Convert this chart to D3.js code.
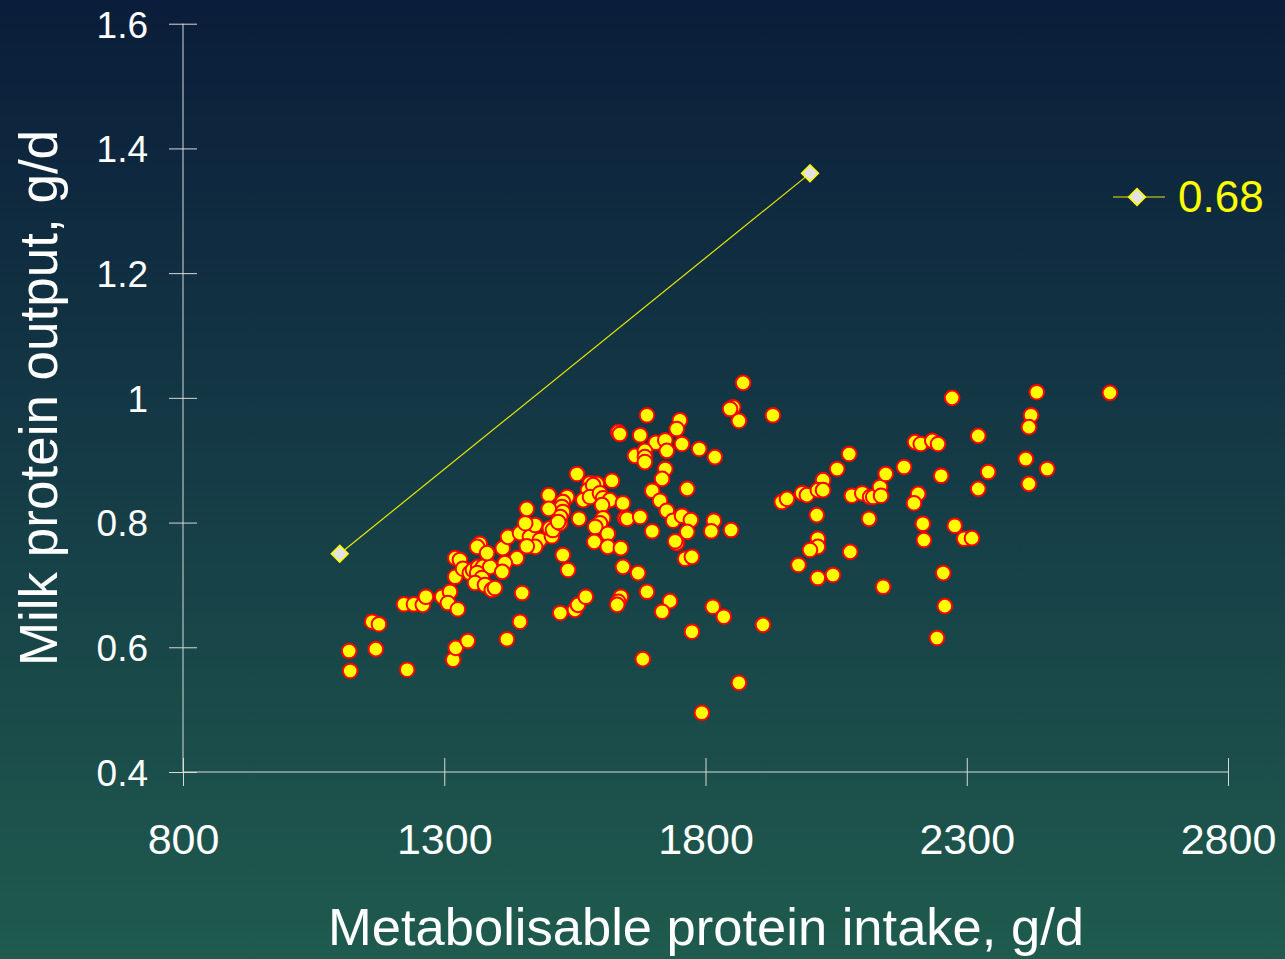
<!DOCTYPE html>
<html>
<head>
<meta charset="utf-8">
<script src="https://cdn.jsdelivr.net/npm/d3@7"></script>
<style>
  html, body { margin: 0; padding: 0; background: #0b1e3b; }
  svg { display: block; }
  text { font-family: "Liberation Sans", Arial, sans-serif; }
</style>
</head>
<body>
<div id="graphicContainer"></div>
<script>
// metabolisable protein intake (g/d), milk protein output
var mpIntake = [
  1118,1120,1169,1162,1175,1229,1223,1242,1259,1265,1296,1311,1307,1326,1317,1322,1345,1420,
  1321,1321,1330,1336,1349,1355,1365,1374,1388,1363,1372,1359,1378,1391,1397,
  1368,1363,1382,1412,1439,1416,1411,1422,1445,1464,1483,1474,1458,1506,
  1474,1455,1502,1508,1522,1449,1445,1527,1537,1522,1550,1556,1571,1554,
  1579,1592,1575,1621,1585,1566,1579,1598,1604,1617,1602,
  1500,1535,1527,1525,1527,1522,1518,1500,1458,1558,
  1604,1598,1589,1613,1642,1646,1587,1613,1638,1642,1671,
  1688,1638,1633,1631,1732,1717,1814,1835,1910,1774,1680,1864,1793,
  1688,1751,1745,1633,1636,1675,1705,1723,1726,1755,1788,1818,
  1665,1684,1684,1684,1723,1717,1698,1713,1726,1765,1650,1675,
  1738,1755,1772,1765,1816,1811,1849,1698,1745,1742,1761,1774,
  1872,1853,1847,1864,1929,
  1978,1946,1956,1985,1994,2025,2015,2025,2052,2075,2013,2015,2015,2000,
  2015,2044,2077,2080,2100,2115,2121,2134,2136,2113,2145,2180,2140,
  2201,2212,2234,2245,2207,2199,2216,2218,2251,2277,2295,2310,
  2255,2258,2243,2272,2322,2341,2322,2413,2454,2419,2423,2419,2434,2574
];
var milkProtein = [
  0.594,0.562,0.597,0.641,0.637,0.564,0.669,0.669,0.668,0.681,0.681,0.689,0.671,0.661,0.580,0.599,0.610,0.613,
  0.713,0.743,0.740,0.726,0.719,0.724,0.729,0.729,0.729,0.719,0.711,0.703,0.700,0.692,0.695,
  0.766,0.761,0.751,0.759,0.743,0.735,0.721,0.777,0.783,0.777,0.772,0.761,0.762,0.778,
  0.796,0.799,0.791,0.788,0.799,0.687,0.641,0.748,0.724,0.655,0.660,0.668,0.681,0.878,
  0.863,0.862,0.852,0.867,0.860,0.836,0.841,0.847,0.839,0.836,0.828,
  0.844,0.841,0.833,0.825,0.817,0.809,0.801,0.822,0.822,0.806,
  0.807,0.799,0.793,0.782,0.831,0.807,0.769,0.761,0.759,0.729,0.719,
  0.689,0.681,0.673,0.668,0.674,0.657,0.665,0.649,0.636,0.625,0.581,0.543,0.495,
  0.972,0.964,0.950,0.945,0.942,0.940,0.928,0.932,0.915,0.926,0.918,0.905,
  0.907,0.915,0.905,0.897,0.886,0.870,0.851,0.835,0.819,0.854,0.806,0.809,
  0.803,0.811,0.804,0.785,0.803,0.786,0.788,0.786,0.767,0.770,0.742,0.745,
  1.024,0.985,0.982,0.963,0.972,
  0.732,0.833,0.838,0.847,0.844,0.868,0.852,0.852,0.886,0.910,0.812,0.774,0.761,0.756,
  0.711,0.716,0.753,0.843,0.847,0.841,0.841,0.857,0.843,0.806,0.878,0.889,0.697,
  0.929,0.926,0.931,0.926,0.846,0.831,0.798,0.772,0.875,0.795,0.774,0.775,
  0.719,0.666,0.615,1.000,0.939,0.881,0.854,0.902,0.886,0.862,0.972,0.953,1.009,1.008
];

// efficiency line
var lineX = [1100, 2000];
var lineY = [0.75, 1.36];
var legendLabel = "0.68";

var xTicks = [800, 1300, 1800, 2300, 2800];
var yTicks = [0.4, 0.6, 0.8, 1, 1.2, 1.4, 1.6];

var width = 1285, height = 959;

var svg = d3.select("#graphicContainer").append("svg")
    .attr("width", width)
    .attr("height", height);

var defs = svg.append("defs");
var grad = defs.append("linearGradient")
    .attr("id", "bg")
    .attr("x1", 0).attr("y1", 0).attr("x2", 0).attr("y2", 1);
grad.append("stop").attr("offset", "0%").attr("stop-color", "#0a1d3a");
grad.append("stop").attr("offset", "50%").attr("stop-color", "#153c46");
grad.append("stop").attr("offset", "100%").attr("stop-color", "#1f5b4e");

svg.append("rect")
    .attr("width", width).attr("height", height)
    .attr("fill", "url(#bg)");

var x = d3.scaleLinear().domain([800, 2800]).range([183, 1228]);
var y = d3.scaleLinear().domain([0.4, 1.6]).range([772, 23.7]);

var axisColor = "#d9d9d9";

// y axis
var yAxis = svg.append("g")
    .attr("transform", "translate(183,0)")
    .call(d3.axisLeft(y).tickValues(yTicks).tickSize(14).tickPadding(21)
        .tickFormat(function(d) { return d3.format("")(+d.toFixed(1)); }));
yAxis.select(".domain").remove();
yAxis.selectAll(".tick line").attr("x2", 14).attr("x1", -14)
    .attr("stroke", axisColor);
yAxis.selectAll(".tick text")
    .attr("fill", "white")
    .attr("font-size", 37)
    .attr("font-family", "Liberation Sans, Arial, sans-serif")
    .attr("dy", "0.36em");
yAxis.append("line")
    .attr("x1", 0).attr("x2", 0)
    .attr("y1", y(1.6)).attr("y2", y(0.4))
    .attr("stroke", axisColor);

// x axis
var xAxis = svg.append("g")
    .attr("transform", "translate(0,772)")
    .call(d3.axisBottom(x).tickValues(xTicks).tickSize(14).tickPadding(37)
        .tickFormat(d3.format("d")));
xAxis.select(".domain").remove();
xAxis.selectAll(".tick line").attr("y1", -14).attr("y2", 14)
    .attr("stroke", axisColor);
xAxis.selectAll(".tick text")
    .attr("fill", "white")
    .attr("font-size", 43)
    .attr("font-family", "Liberation Sans, Arial, sans-serif");
xAxis.append("line")
    .attr("x1", x(800)).attr("x2", x(2800))
    .attr("y1", 0).attr("y2", 0)
    .attr("stroke", axisColor);

// axis titles
svg.append("text")
    .attr("x", 706).attr("y", 945)
    .attr("text-anchor", "middle")
    .attr("fill", "white")
    .attr("font-size", 52.5)
    .text("Metabolisable protein intake, g/d");

svg.append("text")
    .attr("transform", "translate(57,398) rotate(-90)")
    .attr("text-anchor", "middle")
    .attr("fill", "white")
    .attr("font-size", 53)
    .text("Milk protein output, g/d");

// scatter points
var pts = mpIntake.map(function(d, i) { return {x: d, y: milkProtein[i]}; });
svg.append("g").selectAll("circle")
    .data(pts)
    .enter()
    .append("circle")
    .attr("cx", d => x(d.x))
    .attr("cy", d => y(d.y))
    .attr("r", 7.3)
    .attr("fill", "#ffff00")
    .attr("stroke", "#ff0000")
    .attr("stroke-width", 2);

// line with diamond ends
var lineData = lineX.map(function(d, i) { return [d, lineY[i]]; });
svg.append("path")
    .datum(lineData)
    .attr("fill", "none")
    .attr("stroke", "#e8e800")
    .attr("stroke-width", 1.2)
    .attr("d", d3.line().x(d => x(d[0])).y(d => y(d[1])));

var diamond = d3.symbol().type(d3.symbolSquare).size(140);
svg.append("g").selectAll("path")
    .data(lineData)
    .enter()
    .append("path")
    .attr("d", diamond)
    .attr("transform", d => "translate(" + x(d[0]) + "," + y(d[1]) + ") rotate(45)")
    .attr("fill", "#e2e2e2")
    .attr("stroke", "#ffff00")
    .attr("stroke-width", 1.6);

// legend
var legend = svg.append("g").attr("transform", "translate(1113,197)");
legend.append("line")
    .attr("x1", 0).attr("x2", 52)
    .attr("stroke", "#e8e800").attr("stroke-width", 1.2);
legend.append("path")
    .attr("transform", "translate(24,0) rotate(45)")
    .attr("d", diamond)
    .attr("fill", "#e2e2e2")
    .attr("stroke", "#ffff00")
    .attr("stroke-width", 1.6);
legend.append("text")
    .attr("x", 65).attr("y", 15)
    .attr("fill", "#ffff00")
    .attr("font-size", 44)
    .text(legendLabel);
</script>
</body>
</html>
